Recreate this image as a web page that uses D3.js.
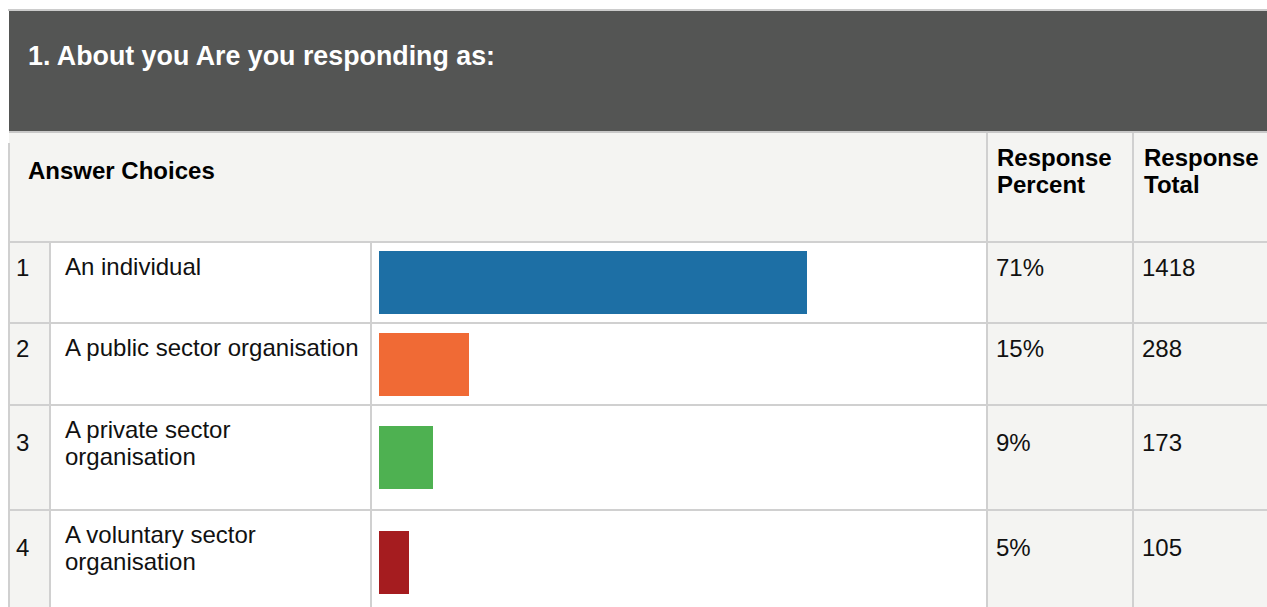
<!DOCTYPE html>
<html>
<head>
<meta charset="utf-8">
<script src="https://cdn.jsdelivr.net/npm/d3@7"></script>
<style>
  body { margin: 0; background: #fff; }
  svg text { font-family: "Liberation Sans", Arial, sans-serif; }
</style>
</head>
<body>
<div id="chart"></div>
<script>
//Datos
const TITLE = '1. About you Are you responding as:';
const HEADERS = ['Answer Choices', ['Response', 'Percent'], ['Response', 'Total']];
const choiceNumbers = [1, 2, 3, 4];
const choiceLabels = [
    ['An individual'],
    ['A public sector organisation'],
    ['A private sector', 'organisation'],
    ['A voluntary sector', 'organisation']
];
const responsePercent = [71, 15, 9, 5];
const responseTotal = [1418, 288, 173, 105];

//Colores fijos
const COLOR_DARK = '#545554',
COLOR_LIGHT = '#f4f4f2',
COLOR_BORDER = '#d0d0d0',
BAR_COLORS = ['#1d6fa5', '#f06a35', '#4eb151', '#a51c1f'];

const W = 1267, H = 607;

const svg = d3.select('#chart').append('svg')
    .attr('width', W)
    .attr('height', H);

//Columnas
const colNum = 9, colLabel = 50, colBar = 371, colPct = 987, colTot = 1133;

//Filas
const headerTop = 133, headerBottom = 242;
let rows = choiceNumbers.map(function(n, i) {
    return { n: n, label: choiceLabels[i], pct: responsePercent[i], tot: responseTotal[i], color: BAR_COLORS[i] };
});
let yPos = headerBottom;
rows.forEach(function(r) {
    r.top = Math.floor(yPos);
    yPos += r.label.length > 1 ? 105 : 81.5;
    r.h = Math.floor(yPos) - r.top;
});

let x = d3.scaleLinear()
    .domain([0, 100])
    .range([0, 603]);

//Cabecera oscura
svg.append('rect').attr('x', 8).attr('y', 9).attr('width', W - 8).attr('height', 2).attr('fill', '#cccccc');
svg.append('rect').attr('x', 9).attr('y', 11).attr('width', W - 9).attr('height', 120).attr('fill', COLOR_DARK);
svg.append('rect').attr('x', 9).attr('y', 131).attr('width', W - 9).attr('height', 2).attr('fill', '#c8c8c8');
svg.append('text')
    .attr('x', 28).attr('y', 65)
    .attr('fill', '#fff')
    .attr('font-size', 26.8).attr('font-weight', 'bold')
    .text(TITLE);

//Fila de cabecera de la tabla
svg.append('rect').attr('x', 9).attr('y', headerTop).attr('width', W - 9).attr('height', headerBottom - headerTop).attr('fill', COLOR_LIGHT);
svg.append('text')
    .attr('x', 28).attr('y', 179)
    .attr('font-size', 24).attr('font-weight', 'bold').attr('fill', '#000')
    .text(HEADERS[0]);
[[HEADERS[1], 997], [HEADERS[2], 1144]].forEach(function(h) {
    svg.append('text')
        .attr('font-size', 24).attr('font-weight', 'bold').attr('fill', '#000')
        .selectAll('tspan')
        .data(h[0])
        .enter()
        .append('tspan')
        .attr('x', h[1])
        .attr('y', function(d, i) { return 166 + i * 27; })
        .text(function(d) { return d; });
});

//Filas
let g = svg.selectAll('.row')
    .data(rows)
    .enter()
    .append('g')
    .attr('class', 'row')
    .attr('transform', function(d) { return 'translate(0,' + d.top + ')'; });

g.append('rect').attr('x', colNum).attr('y', 0).attr('width', colLabel - colNum).attr('height', function(d) { return d.h; }).attr('fill', COLOR_LIGHT);
g.append('rect').attr('x', colLabel).attr('y', 0).attr('width', colPct - colLabel).attr('height', function(d) { return d.h; }).attr('fill', '#fff');
g.append('rect').attr('x', colPct).attr('y', 0).attr('width', W - colPct).attr('height', function(d) { return d.h; }).attr('fill', COLOR_LIGHT);

g.append('rect')
    .attr('class', 'bars')
    .attr('x', colBar + 8 + x(0))
    .attr('y', function(d) { return Math.round(d.h / 2 - 31.5); })
    .attr('width', function(d) { return Math.round(x(d.pct) - x(0)); })
    .attr('height', 63)
    .attr('fill', function(d) { return d.color; });

g.append('text')
    .attr('x', 16)
    .attr('y', function(d) { return d.h / 2 - 7; })
    .attr('font-size', 24).attr('fill', '#111')
    .text(function(d) { return d.n; });

g.append('text')
    .attr('font-size', 24).attr('fill', '#111')
    .selectAll('tspan')
    .data(function(d) { return d.label; })
    .enter()
    .append('tspan')
    .attr('x', 65)
    .attr('y', function(d, i) { return 33 + i * 27; })
    .text(function(d) { return d; });

g.append('text')
    .attr('x', 996)
    .attr('y', function(d) { return d.h / 2 - 7; })
    .attr('font-size', 24).attr('fill', '#111')
    .text(function(d) { return d.pct + '%'; });

g.append('text')
    .attr('x', 1142)
    .attr('y', function(d) { return d.h / 2 - 7; })
    .attr('font-size', 24).attr('fill', '#111')
    .text(function(d) { return d.tot; });

//Bordes
rows.forEach(function(r) {
    svg.append('rect').attr('x', 9).attr('y', r.top - 1).attr('width', W - 9).attr('height', 2).attr('fill', COLOR_BORDER);
});
[colLabel - 1, colBar - 1].forEach(function(cx) {
    svg.append('rect').attr('x', cx).attr('y', headerBottom).attr('width', 2).attr('height', H - headerBottom).attr('fill', COLOR_BORDER);
});
[colPct - 1, colTot - 1].forEach(function(cx) {
    svg.append('rect').attr('x', cx).attr('y', headerTop).attr('width', 2).attr('height', H - headerTop).attr('fill', COLOR_BORDER);
});
svg.append('rect').attr('x', 8).attr('y', 143).attr('width', 2).attr('height', H - 143).attr('fill', COLOR_BORDER);
</script>
</body>
</html>
